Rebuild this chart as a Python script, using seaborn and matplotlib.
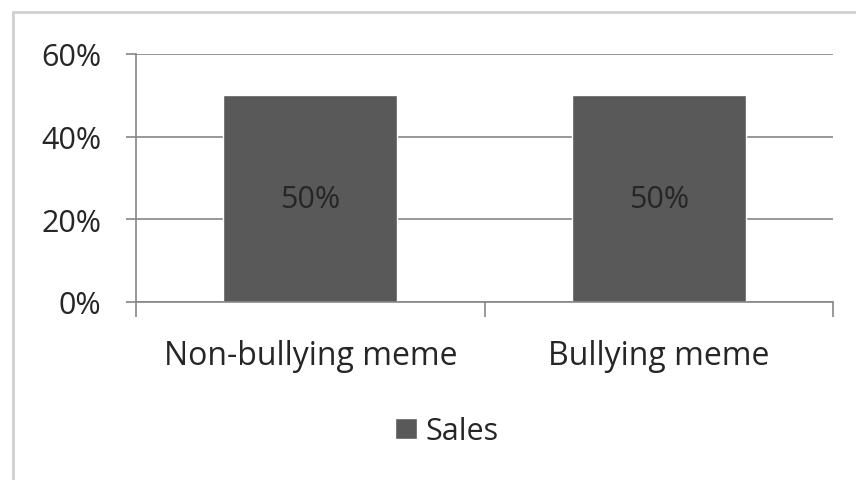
import matplotlib
matplotlib.use("Agg")
import matplotlib.pyplot as plt
import seaborn as sns
import pandas as pd
from matplotlib.patches import Rectangle
from matplotlib.ticker import FuncFormatter, FixedLocator

categories = ["Non-bullying meme", "Bullying meme"]
values = [0.50, 0.50]
series_name = "Sales"
yticks = [0.0, 0.2, 0.4, 0.6]

sns.set_theme(style="white")
plt.rcParams['font.family'] = ['Open Sans', 'DejaVu Sans']

W, H = 856, 481
fig = plt.figure(figsize=(W / 100, H / 100), dpi=100)
ax = fig.add_axes([136 / W, 1 - 303 / H, (833 - 136) / W, (303 - 55) / H])

df = pd.DataFrame({"cat": categories, "val": values})
bar_color = "#595959"
sns.barplot(data=df, x="cat", y="val", color=bar_color, width=0.5, ax=ax,
            label=series_name, saturation=1)

ax.set_xlim(-0.5, 1.5)
ax.set_ylim(0, 0.6)
ax.set_yticks(yticks)
ax.yaxis.set_major_formatter(FuncFormatter(lambda v, p: f"{v*100:.0f}%"))
ax.grid(axis="y", color="#868686", linewidth=1.2)
ax.set_axisbelow(True)
for s in ["top", "right"]:
    ax.spines[s].set_visible(False)
for s in ["left", "bottom"]:
    ax.spines[s].set_color("#868686")
    ax.spines[s].set_linewidth(1.2)

ax.set_xlabel("")
ax.set_ylabel("")
txt_color = "#262626"
fs = 22
ax.tick_params(axis="y", length=7, width=1.2, color="#868686", labelsize=fs,
               labelcolor=txt_color, pad=18, left=True)
ax.tick_params(axis="x", which="major", length=0, labelsize=23,
               labelcolor=txt_color, pad=27)
ax.xaxis.set_minor_locator(FixedLocator([-0.5, 0.5, 1.5]))
ax.tick_params(axis="x", which="minor", length=11, width=1.2, color="#868686",
               bottom=True)

for container in ax.containers:
    texts = ax.bar_label(container, labels=[f"{v*100:.0f}%" for v in values],
                         label_type="center", fontsize=fs, color=txt_color,
                         padding=0)
    for t in texts:
        t.set_y(t.get_position()[1])
        t.set_va("center")
        t.set_transform(t.get_transform() + matplotlib.transforms.ScaledTranslation(0, -4 / 100, fig.dpi_scale_trans))

leg = ax.legend(loc="center", bbox_to_anchor=(447 / W, 1 - 432 / H),
                bbox_transform=fig.transFigure, frameon=False, fontsize=fs,
                handlelength=0.7, handleheight=0.7, handletextpad=0.3,
                labelcolor=txt_color)

fig.patches.append(Rectangle((13 / W, -0.1), 1.2, 1 - 13 / H + 0.1,
                             transform=fig.transFigure, fill=False,
                             edgecolor="#d0d0d0", linewidth=2, zorder=0))

fig.savefig("out.png", dpi=100)
